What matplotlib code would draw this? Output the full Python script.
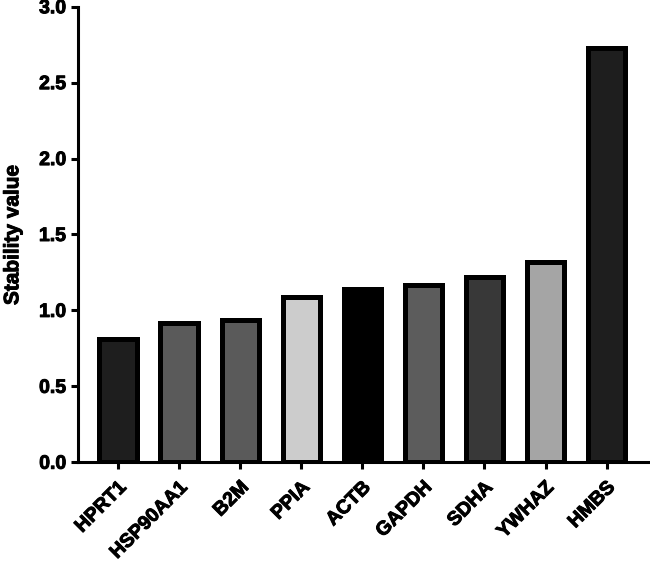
import matplotlib
matplotlib.use("Agg")
import matplotlib.pyplot as plt
import matplotlib.patheffects as pe

genes = ["HPRT1", "HSP90AA1", "B2M", "PPIA", "ACTB", "GAPDH", "SDHA", "YWHAZ", "HMBS"]
values = [0.815, 0.92, 0.94, 1.09, 1.14, 1.17, 1.22, 1.32, 2.73]
colors = ["#1e1e1e", "#5a5a5a", "#5a5a5a", "#cccccc", "#000000", "#5c5c5c", "#383838", "#a5a5a5", "#1e1e1e"]

plt.rcParams['font.family'] = ['Liberation Sans', 'DejaVu Sans']
plt.rcParams['font.weight'] = 'bold'

heavy = [pe.withStroke(linewidth=0.7, foreground='black')]

fig = plt.figure(figsize=(6.5, 5.61), dpi=100)
ax = fig.add_axes([0.12, 0.176, 0.879, 0.812])
x = list(range(len(genes)))
ax.bar(x, values, width=0.61, color=colors, edgecolor="black", linewidth=3.6)
ax.set_xlim(-0.655, 8.7)
ax.set_ylim(0, 3.0)
ax.set_yticks([0, 0.5, 1.0, 1.5, 2.0, 2.5, 3.0])
ax.set_yticklabels(["0.0", "0.5", "1.0", "1.5", "2.0", "2.5", "3.0"], fontsize=14, fontweight='bold')
ax.set_xticks(x)
ax.set_xticklabels(genes, rotation=45, ha='right', rotation_mode='anchor', fontsize=14, fontweight='bold')
ax.set_ylabel("Stability value", fontsize=15, fontweight='bold', labelpad=12)
for t in ax.get_xticklabels() + ax.get_yticklabels() + [ax.yaxis.label]:
    t.set_path_effects(heavy)
for s in ['top', 'right']:
    ax.spines[s].set_visible(False)
for s in ['left', 'bottom']:
    ax.spines[s].set_linewidth(2.2)
ax.tick_params(axis='both', width=2.2, length=5, direction='out')
ax.tick_params(axis='x', pad=7)
fig.savefig("out.png", dpi=100)
